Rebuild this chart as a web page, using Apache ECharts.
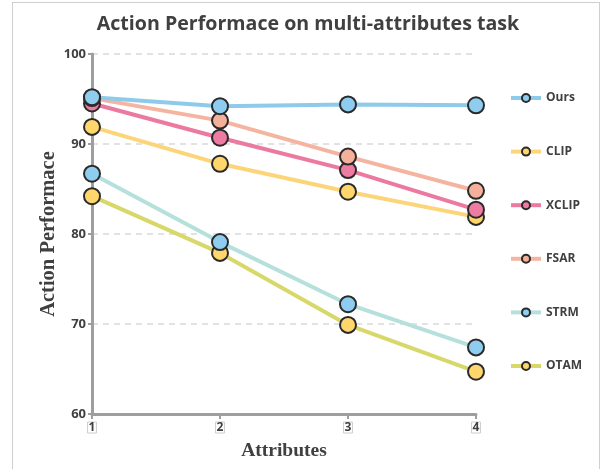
<!DOCTYPE html>
<html lang="en">
<head>
    <meta charset="UTF-8">
    <title>Action Performace</title>
    <script src="https://cdn.jsdelivr.net/npm/echarts@6/dist/echarts.min.js"></script>
    <style>
        body { margin: 0; background: #fff; }
        #frame { position: absolute; left: 12px; top: 2px; width: 588px; height: 470px; border: 1px solid #cfcfcf; box-sizing: border-box; }
        #main { width: 603px; height: 469px; }
    </style>
</head>
<body>
<div id="frame"></div>
<div id="main"></div>
<script type="text/javascript">
    // data
    var attributes = ['1', '2', '3', '4'];
    var ours  = [95.2, 94.2, 94.4, 94.3];
    var clip  = [91.9, 87.8, 84.7, 81.9];
    var xclip = [94.5, 90.7, 87.1, 82.7];
    var fsar  = [95.1, 92.6, 88.6, 84.8];
    var strm  = [86.7, 79.1, 72.2, 67.4];
    var otam  = [84.2, 77.9, 69.9, 64.7];

    var blue = '#8ecdf0', yellow = '#fed66b';

    function makeSeries(name, data, lineColor, dotColor) {
        return {
            name: name,
            type: 'line',
            data: data,
            symbol: 'circle',
            symbolSize: 16,
            lineStyle: { color: lineColor, width: 4 },
            itemStyle: { color: dotColor, borderColor: '#2a2a2a', borderWidth: 2 },
            emphasis: { disabled: true }
        };
    }

    var myChart = echarts.init(document.getElementById('main'));
    var option = {
        animation: false,
        title: {
            text: 'Action Performace on multi-attributes task',
            left: 303,
            textAlign: 'center',
            top: 9,
            textStyle: { fontFamily: 'Open Sans', fontWeight: 'bold', fontSize: 19.6, color: '#404040' }
        },
        legend: {
            orient: 'vertical',
            left: 504,
            top: 87,
            itemGap: 41.6,
            itemWidth: 30,
            itemHeight: 10,
            lineStyle: { width: 4 },
            textStyle: { fontFamily: 'Open Sans', fontWeight: 'bold', fontSize: 12, color: '#404040' },
            data: ['Ours', 'CLIP', 'XCLIP', 'FSAR', 'STRM', 'OTAM']
        },
        grid: { left: 92, right: 127, top: 54, bottom: 55 },
        xAxis: {
            type: 'category',
            boundaryGap: false,
            data: attributes,
            name: 'Attributes',
            nameLocation: 'middle',
            nameGap: 27,
            nameTextStyle: { fontFamily: 'Liberation Serif', fontWeight: 'bold', fontSize: 19.5, color: '#404040' },
            axisLine: { lineStyle: { color: '#9e9e9e', width: 3 } },
            axisTick: { show: true, length: 5, lineStyle: { color: '#9e9e9e', width: 2 } },
            axisLabel: {
                fontFamily: 'Open Sans', fontWeight: 'bold', fontSize: 12, color: '#404040',
                margin: 8, borderColor: '#cccccc', borderWidth: 1, padding: [0, 1, -1, 1]
            }
        },
        yAxis: {
            type: 'value',
            min: 60,
            max: 100,
            interval: 10,
            name: 'Action Performace',
            nameLocation: 'middle',
            nameGap: 33,
            nameMoveOverlap: false,
            nameTextStyle: { fontFamily: 'Liberation Serif', fontWeight: 'bold', fontSize: 20.5, color: '#404040' },
            axisLine: { show: true, lineStyle: { color: '#9e9e9e', width: 3 } },
            axisTick: { show: true, length: 4, lineStyle: { color: '#9e9e9e', width: 2 } },
            axisLabel: { fontFamily: 'Open Sans', fontWeight: 'bold', fontSize: 13, color: '#404040', margin: 6 },
            splitLine: { lineStyle: { color: '#d9d9d9', type: [6, 5], width: 1.5 } }
        },
        series: [
            makeSeries('OTAM', otam, '#d8d86a', yellow),
            makeSeries('STRM', strm, '#b5e0dc', blue),
            makeSeries('CLIP', clip, '#fcd57a', yellow),
            makeSeries('XCLIP', xclip, '#ec7aa0', '#ee7ba1'),
            makeSeries('FSAR', fsar, '#f4b4a0', '#f5b09c'),
            makeSeries('Ours', ours, '#8ecbeb', blue)
        ]
    };
    myChart.setOption(option);
</script>
</body>
</html>
